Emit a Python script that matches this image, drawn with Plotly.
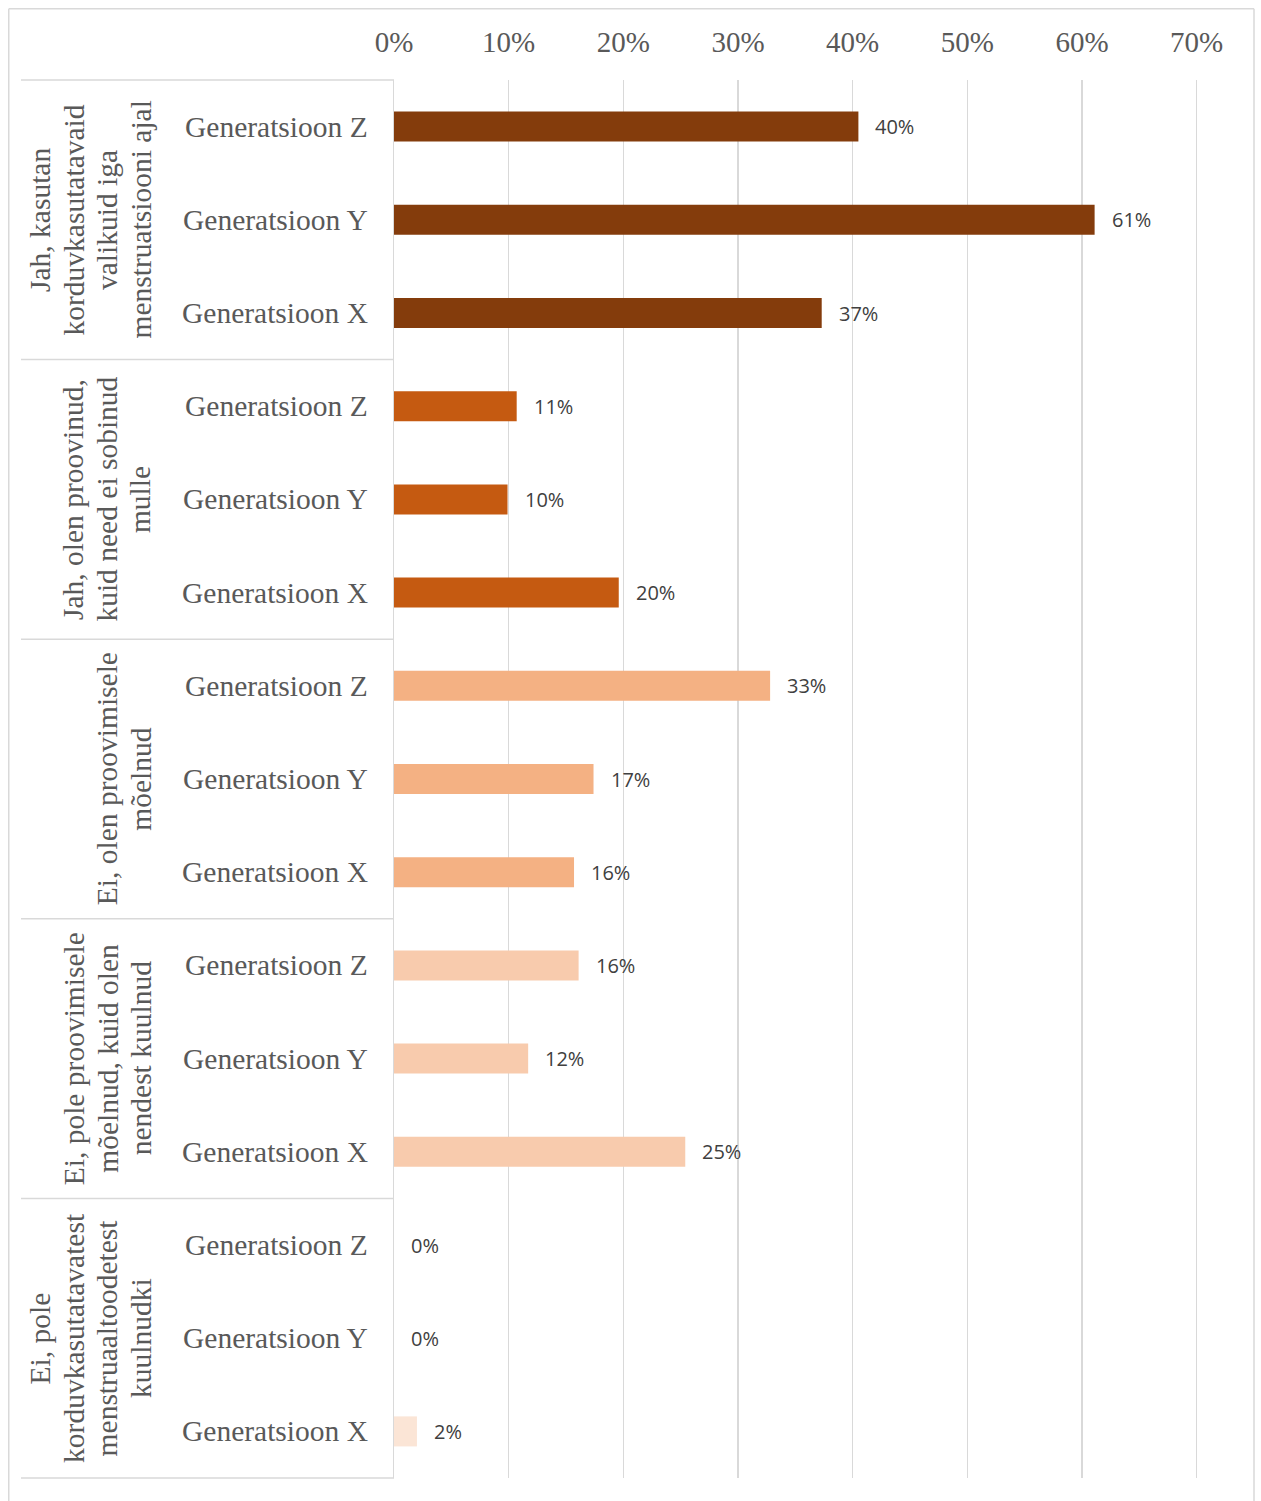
import plotly.graph_objects as go

# ---------------- data ----------------
group_lines = [
    ["Jah, kasutan", "korduvkasutatavaid", "valikuid iga", "menstruatsiooni ajal"],
    ["Jah, olen proovinud,", "kuid need ei sobinud", "mulle"],
    ["Ei, olen proovimisele", "mõelnud"],
    ["Ei, pole proovimisele", "mõelnud, kuid olen", "nendest kuulnud"],
    ["Ei, pole", "korduvkasutatavatest", "menstruaaltoodetest", "kuulnudki"],
]
generations = ["Generatsioon Z", "Generatsioon Y", "Generatsioon X"]
values_g1 = [0.405, 0.611, 0.373]
values_g2 = [0.107, 0.099, 0.196]
values_g3 = [0.328, 0.174, 0.157]
values_g4 = [0.161, 0.117, 0.254]
values_g5 = [0.0, 0.0, 0.020]
group_values = [values_g1, values_g2, values_g3, values_g4, values_g5]
group_colors = ["#843C0C", "#C55A11", "#F4B183", "#F8CBAD", "#FBE5D6"]
tick_values = [0, 0.1, 0.2, 0.3, 0.4, 0.5, 0.6, 0.7]

# ---------------- geometry helpers ----------------
W, H = 1261, 1501
PL, PR, PT, PB = 394, 1254, 80, 1478


def px_x(px):
    return (px - PL) / (PR - PL)


def px_y(py):
    return (PB - py) / (PB - PT)


cats, vals, cols, gens = [], [], [], []
for gi, (vs, c) in enumerate(zip(group_values, group_colors)):
    for gen, v in zip(generations, vs):
        cats.append(f"g{gi}|{gen}")
        vals.append(v)
        cols.append(c)
        gens.append(gen)

fig = go.Figure()
fig.add_trace(go.Bar(
    x=vals, y=cats, orientation="h",
    marker=dict(color=cols, line=dict(width=0)),
    hoverinfo="skip",
))

grid = "#D9D9D9"
shapes = []
annotations = []

# outer border (top, left, right; bottom lies below the picture)
border = dict(color=grid, width=1.5)
shapes.append(dict(type="line", xref="paper", yref="paper",
                   x0=px_x(8.75), x1=px_x(1254), y0=px_y(8.75), y1=px_y(8.75), line=border))
shapes.append(dict(type="line", xref="paper", yref="paper",
                   x0=px_x(8.75), x1=px_x(8.75), y0=px_y(8.75), y1=px_y(1515), line=border))
shapes.append(dict(type="line", xref="paper", yref="paper",
                   x0=px_x(1254), x1=px_x(1254), y0=px_y(8.75), y1=px_y(1515), line=border))
# group separators
n_groups = len(group_values)
for k in range(n_groups + 1):
    yy = 1 - k / n_groups
    shapes.append(dict(type="line", xref="paper", yref="paper",
                       x0=px_x(21), x1=0, y0=yy, y1=yy,
                       line=dict(color=grid, width=1.5)))

# category labels
for cat, gen in zip(cats, gens):
    annotations.append(dict(xref="paper", yref="y", x=0, y=cat, text=gen,
                            xanchor="right", yanchor="middle", xshift=-24,
                            showarrow=False,
                            font=dict(family="Liberation Serif", size=29.5, color="#595959")))

# value labels
for cat, v in zip(cats, vals):
    annotations.append(dict(xref="x", yref="y", x=v, y=cat, text=f"{round(v*100):.0f}%",
                            xanchor="left", yanchor="middle", xshift=15,
                            showarrow=False,
                            font=dict(family="Open Sans", size=20, color="#404040")))

# group labels (rotated, one annotation per line)
last_baseline = 150.5
spacing = 33.5
for k, lines in enumerate(group_lines):
    yc = 1 - (k + 0.5) / n_groups
    n = len(lines)
    for i, line in enumerate(lines):
        baseline = last_baseline - (n - 1 - i) * spacing
        cx = baseline - 9.8
        annotations.append(dict(xref="paper", yref="paper", x=px_x(cx), y=yc,
                                text=line, textangle=-90,
                                xanchor="center", yanchor="middle",
                                showarrow=False,
                                font=dict(family="Liberation Serif", size=29.5, color="#595959")))

fig.update_layout(
    width=W, height=H,
    margin=dict(l=PL, r=W - PR, t=PT, b=H - PB, pad=0),
    paper_bgcolor="white", plot_bgcolor="white",
    showlegend=False,
    bargap=0.678,
    shapes=shapes,
    annotations=annotations,
    xaxis=dict(
        side="top", range=[0, 0.75], tickvals=tick_values, tickformat=".0%",
        showgrid=True, gridcolor=grid, gridwidth=1.5, zeroline=False,
        showline=False, ticks="outside", ticklen=15, tickcolor="rgba(0,0,0,0)",
        tickfont=dict(family="Liberation Serif", size=29, color="#595959"),
        fixedrange=True,
    ),
    yaxis=dict(
        categoryorder="array", categoryarray=cats, autorange="reversed",
        showticklabels=False, showgrid=False, zeroline=False,
        showline=True, linecolor=grid, linewidth=1.5, ticks="",
        fixedrange=True,
    ),
)

fig.write_html(
    "out.html",
    config={"displayModeBar": False, "staticPlot": True},
    post_script="document.body.style.margin='0';document.body.style.overflow='hidden';",
)
